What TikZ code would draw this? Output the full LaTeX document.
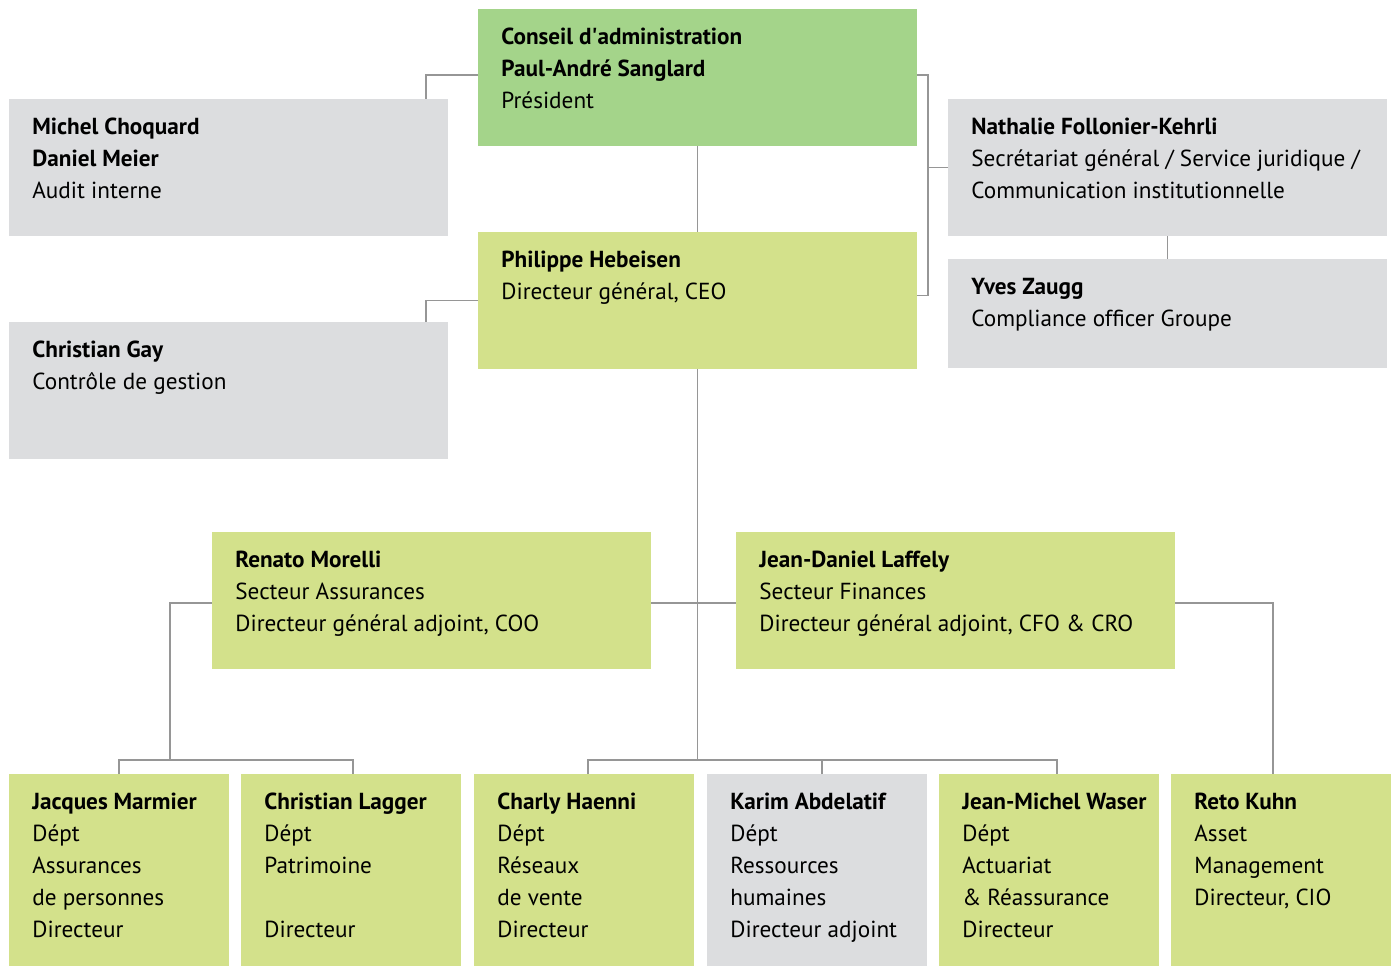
\documentclass[tikz,border=0pt]{standalone}
\usepackage{fontspec}
\setmainfont{PT Sans}
\usepackage{tikz}
\usetikzlibrary{calc}

\definecolor{boardgreen}{RGB}{164,212,138}
\definecolor{mgmtgreen}{RGB}{211,225,139}
\definecolor{staffgray}{RGB}{220,221,223}
\definecolor{linkgray}{RGB}{150,150,150}

\tikzset{
  unit/.style={anchor=north west,inner sep=0pt,outer sep=0pt,minimum height=68.5pt,minimum width=219.5pt},
  wide/.style={unit,fill=#1},
  narrow/.style={unit,fill=mgmtgreen,minimum width=110pt,minimum height=96pt},
  txt/.style={anchor=north west,inner sep=0pt,align=left,font=\fontsize{11.6}{16}\selectfont},
  link/.style={draw=linkgray,line width=0.75pt}
}

\begin{document}
\begin{tikzpicture}[x=0.5pt,y=-0.5pt]
                \useasboundingbox (0,0) rectangle (1391,966);
                % Board and general management
                \node[wide=boardgreen](board) at (478,9){};
                \node[wide=staffgray](audit) at (9,99){};
                \node[wide=staffgray](secgen) at (948,99){};
                \node[wide=mgmtgreen](ceo) at (478,232){};
                \node[wide=staffgray](control) at (9,322){};
                \node[wide=staffgray,minimum height=54.5pt](compliance) at (948,259){};
                % Sectors
                \node[wide=mgmtgreen](coo) at (212,532){};
                \node[wide=mgmtgreen](cfo) at (736,532){};
                % Departments
                \node[narrow](persons) at (9,774){};
                \node[narrow](estate) at (241,774){};
                \node[narrow](sales) at (474,774){};
                \node[narrow,fill=staffgray](hr) at (707,774){};
                \node[narrow](actuary) at (939,774){};
                \node[narrow](asset) at (1171,774){};
                % Texts
                \node[txt](boardtxt) at ($(board.north west)+(23,19)$){\textbf{Conseil d\textquotesingle administration}\\\textbf{Paul-André Sanglard}\\Président};
                \node[txt](audittxt) at ($(audit.north west)+(23,19)$){\textbf{Michel Choquard}\\\textbf{Daniel Meier}\\Audit interne};
                \node[txt](secgentxt) at ($(secgen.north west)+(23,19)$){\textbf{Nathalie Follonier-Kehrli}\\Secrétariat général / Service juridique /\\Communication institutionnelle};
                \node[txt](ceotxt) at ($(ceo.north west)+(23,19)$){\textbf{Philippe Hebeisen}\\Directeur général, CEO};
                \node[txt](controltxt) at ($(control.north west)+(23,19)$){\textbf{Christian Gay}\\Contrôle de gestion};
                \node[txt](compltxt) at ($(compliance.north west)+(23,19)$){\textbf{Yves Zaugg}\\Compliance officer Groupe};
                \node[txt](cootxt) at ($(coo.north west)+(23,19)$){\textbf{Renato Morelli}\\Secteur Assurances\\Directeur général adjoint, COO};
                \node[txt](cfotxt) at ($(cfo.north west)+(23,19)$){\textbf{Jean-Daniel Laffely}\\Secteur Finances\\Directeur général adjoint, CFO \& CRO};
                \node[txt](personstxt) at ($(persons.north west)+(23,19)$){\textbf{Jacques Marmier}\\Dépt\\Assurances\\de personnes\\Directeur};
                \node[txt](estatetxt) at ($(estate.north west)+(23,19)$){\textbf{Christian Lagger}\\Dépt\\Patrimoine\\\\Directeur};
                \node[txt](salestxt) at ($(sales.north west)+(23,19)$){\textbf{Charly Haenni}\\Dépt\\Réseaux\\de vente\\Directeur};
                \node[txt](hrtxt) at ($(hr.north west)+(23,19)$){\textbf{Karim Abdelatif}\\Dépt\\Ressources\\humaines\\Directeur adjoint};
                \node[txt](actuarytxt) at ($(actuary.north west)+(23,19)$){\textbf{Jean-Michel Waser}\\Dépt\\Actuariat\\\& Réassurance\\Directeur};
                \node[txt](assettxt) at ($(asset.north west)+(23,19)$){\textbf{Reto Kuhn}\\Asset\\Management\\Directeur, CIO};
                % Connectors
                \coordinate(busL) at (170,760);
                \coordinate(busC) at (697.5,760);
                \draw[link]([yshift=1.25pt]board.west)-|([xshift=-11pt]audit.north east);
                \draw[link]([yshift=1.25pt]board.east)-|++(11,0)|-([yshift=2.5pt]ceo.east);
                \draw[link](secgen.west)--++(-20,0);
                \draw[link](secgen.south)--(compliance.north);
                \draw[link](board.south)--(ceo.north);
                \draw[link](ceo.west)-|([xshift=-11pt]control.north east);
                \draw[link](ceo.south)--(busC);
                \draw[link]([yshift=-1.25pt]coo.east)--([yshift=-1.25pt]cfo.west);
                \draw[link]([yshift=-1.25pt]coo.west)-|(busL);
                \draw[link](persons.north)--(persons.north|-busL)--([xshift=1pt]estate.north|-busL)--([xshift=1pt]estate.north);
                \draw[link]([xshift=2pt]sales.north)--([xshift=2pt]sales.north|-busC)--([xshift=4pt]actuary.north|-busC)--([xshift=4pt]actuary.north);
                \draw[link]([xshift=2.5pt]hr.north)--([xshift=2.5pt]hr.north|-busC);
                \draw[link]([yshift=-1.25pt]cfo.east)-|([xshift=-4pt]asset.north);
\end{tikzpicture}
\end{document}
